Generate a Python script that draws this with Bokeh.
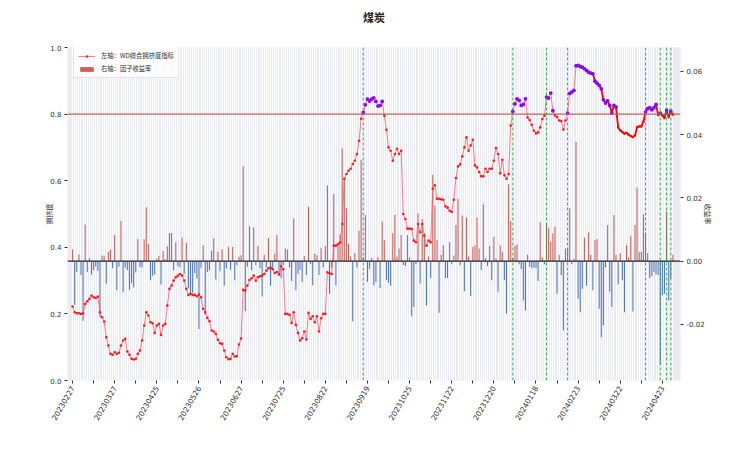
import math
from bokeh.plotting import figure
from bokeh.models import (Range1d, LinearAxis, FixedTicker, NumeralTickFormatter, Span,
                          Legend, LegendItem, Title)
from bokeh.embed import file_html
from bokeh.resources import INLINE

# ---------------- data ----------------
title_text = "煤炭"
tick_labels = ["20230227", "20230327", "20230425", "20230526", "20230627", "20230725",
               "20230822", "20230919", "20231025", "20231122", "20231220", "20240118",
               "20240223", "20240322", "20240423"]
label_step = 20      # trading days between labelled ticks
threshold = 0.8
thick_start = 247    # start of highlighted recent segment

crowding = [
    0.222, 0.205, 0.202, 0.202, 0.200, 0.202, 0.230, 0.238, 0.245, 0.255,
    0.250, 0.248, 0.252, 0.205, 0.190, 0.177, 0.130, 0.105, 0.080, 0.077,
    0.085, 0.080, 0.083, 0.105, 0.120, 0.125, 0.087, 0.077, 0.065, 0.063,
    0.065, 0.080, 0.090, 0.120, 0.165, 0.205, 0.195, 0.175, 0.172, 0.143,
    0.165, 0.170, 0.137, 0.165, 0.170, 0.225, 0.275, 0.285, 0.300, 0.310,
    0.315, 0.320, 0.315, 0.300, 0.275, 0.257, 0.260, 0.257, 0.257, 0.253,
    0.258, 0.250, 0.215, 0.205, 0.188, 0.178, 0.150, 0.147, 0.140, 0.122,
    0.112, 0.110, 0.090, 0.070, 0.064, 0.065, 0.080, 0.072, 0.073, 0.108,
    0.126, 0.272, 0.270, 0.285, 0.302, 0.307, 0.315, 0.300, 0.310, 0.313,
    0.315, 0.320, 0.330, 0.337, 0.339, 0.334, 0.323, 0.326, 0.318, 0.343,
    0.334, 0.200, 0.200, 0.197, 0.173, 0.205, 0.167, 0.143, 0.120, 0.127,
    0.147, 0.123, 0.203, 0.185, 0.193, 0.175, 0.193, 0.147, 0.187, 0.200,
    0.200, 0.325, 0.322, 0.320, 0.405, 0.405, 0.410, 0.415, 0.470, 0.606,
    0.620, 0.630, 0.636, 0.650, 0.660, 0.680, 0.720, 0.786, 0.805, 0.828,
    0.845, 0.839, 0.845, 0.849, 0.838, 0.824, 0.826, 0.838, 0.795, 0.753,
    0.700, 0.690, 0.660, 0.680, 0.696, 0.680, 0.690, 0.500, 0.485, 0.456,
    0.456, 0.455, 0.420, 0.415, 0.470, 0.445, 0.470, 0.435, 0.405, 0.420,
    0.415, 0.576, 0.586, 0.546, 0.546, 0.544, 0.543, 0.523, 0.519, 0.510,
    0.506, 0.543, 0.608, 0.643, 0.649, 0.673, 0.700, 0.730, 0.690, 0.706,
    0.723, 0.646, 0.640, 0.626, 0.613, 0.613, 0.636, 0.626, 0.636, 0.636,
    0.660, 0.698, 0.680, 0.622, 0.663, 0.616, 0.606, 0.620, 0.766, 0.808,
    0.831, 0.846, 0.841, 0.826, 0.829, 0.846, 0.790, 0.782, 0.768, 0.750,
    0.742, 0.745, 0.760, 0.785, 0.795, 0.851, 0.848, 0.863, 0.810, 0.796,
    0.791, 0.781, 0.779, 0.754, 0.781, 0.803, 0.862, 0.866, 0.871, 0.945,
    0.946, 0.943, 0.941, 0.936, 0.931, 0.926, 0.923, 0.921, 0.899, 0.893,
    0.886, 0.876, 0.843, 0.833, 0.840, 0.826, 0.803, 0.826, 0.821, 0.760,
    0.751, 0.746, 0.741, 0.744, 0.738, 0.734, 0.731, 0.736, 0.761, 0.763,
    0.763, 0.778, 0.806, 0.816, 0.819, 0.813, 0.819, 0.829, 0.797, 0.803,
    0.796, 0.788, 0.812, 0.791, 0.809, 0.798,
]

factor_ret = [
    0.0037, -0.0138, -0.0034, 0.0022, -0.0044, -0.0188, 0.0116, -0.0034, 0.0010, -0.0043,
    -0.0029, -0.0018, -0.0031, -0.0178, 0.0018, 0.0017, -0.0071, 0.0030, 0.0037, -0.0022,
    0.0083, -0.0092, -0.0018, 0.0127, -0.0098, -0.0021, -0.0029, -0.0090, -0.0070, -0.0083,
    -0.0036, 0.0070, -0.0019, -0.0020, 0.0069, 0.0170, 0.0054, -0.0060, -0.0047, -0.0042,
    0.0008, 0.0016, -0.0074, 0.0032, 0.0006, 0.0047, 0.0089, 0.0089, -0.0029, 0.0060,
    -0.0016, -0.0020, 0.0075, -0.0040, 0.0058, -0.0085, -0.0103, -0.0100, -0.0037, -0.0055,
    -0.0214, -0.0022, 0.0050, -0.0170, -0.0034, -0.0029, 0.0033, 0.0072, -0.0058, 0.0030,
    -0.0032, 0.0038, -0.0078, -0.0023, 0.0045, -0.0027, 0.0045, -0.0060, -0.0013, 0.0014,
    0.0019, 0.0300, -0.0158, -0.0018, 0.0110, -0.0029, 0.0106, -0.0013, 0.0048, -0.0022,
    -0.0112, 0.0020, -0.0020, 0.0073, -0.0078, -0.0025, 0.0024, 0.0083, -0.0044, -0.0053,
    -0.0012, 0.0040, 0.0037, -0.0020, -0.0063, 0.0135, -0.0092, -0.0040, -0.0028, -0.0066,
    0.0016, -0.0044, 0.0172, -0.0010, -0.0076, 0.0024, 0.0019, -0.0044, 0.0041, -0.0020,
    0.0048, 0.0240, -0.0103, -0.0020, 0.0212, -0.0076, 0.0053, 0.0085, 0.0356, 0.0257,
    0.0167, 0.0055, 0.0015, -0.0190, 0.0026, -0.0020, 0.0096, 0.0320, 0.0012, 0.0146,
    -0.0066, -0.0025, 0.0010, -0.0076, -0.0066, 0.0012, -0.0085, 0.0125, 0.0067, -0.0060,
    -0.0068, -0.0078, 0.0088, 0.0146, 0.0015, 0.0040, 0.0083, -0.0012, -0.0015, 0.0083,
    0.0012, -0.0174, -0.0145, -0.0010, 0.0151, -0.0070, 0.0133, 0.0088, -0.0140, 0.0015,
    -0.0053, 0.0273, 0.0176, 0.0067, -0.0163, 0.0020, 0.0050, -0.0053, -0.0053, 0.0060,
    -0.0010, 0.0018, 0.0114, 0.0197, -0.0013, 0.0144, -0.0095, 0.0138, 0.0015, -0.0110,
    0.0045, 0.0050, 0.0138, 0.0040, -0.0028, 0.0180, 0.0010, -0.0015, 0.0048, -0.0060,
    0.0077, 0.0010, -0.0097, 0.0050, 0.0030, -0.0060, -0.0166, 0.0243, 0.0127, 0.0010,
    0.0048, 0.0053, -0.0010, -0.0025, -0.0124, -0.0156, 0.0020, -0.0018, -0.0022, -0.0020,
    -0.0022, -0.0063, 0.0123, 0.0012, -0.0010, 0.0120, 0.0104, 0.0061, 0.0088, 0.0109,
    -0.0103, 0.0020, -0.0044, -0.0219, 0.0040, 0.0042, 0.0167, -0.0010, 0.0008, 0.0377,
    -0.0119, -0.0161, -0.0087, 0.0074, -0.0078, 0.0091, 0.0020, -0.0092, 0.0067, 0.0070,
    -0.0150, -0.0240, -0.0203, -0.0020, 0.0114, -0.0097, -0.0145, 0.0146, 0.0020, -0.0074,
    0.0025, -0.0060, -0.0161, 0.0051, 0.0012, 0.0080, -0.0159, 0.0114, 0.0233, 0.0030,
    0.0030, 0.0148, 0.0088, 0.0025, -0.0053, -0.0047, -0.0034, -0.0042, -0.0044, -0.0325,
    -0.0108, -0.0103, 0.0157, -0.0124, -0.0055, 0.0020,
]

left_ticks = [0.0, 0.2, 0.4, 0.6, 0.8, 1.0]
right_ticks = [-0.02, 0.0, 0.02, 0.04, 0.06]

# ---------------- derived ----------------
n = len(crowding)
idx = list(range(n))
hi_x = [i for i in idx if crowding[i] > threshold]
hi_y = [crowding[i] for i in hi_x]
signals = [i for i in idx[1:] if crowding[i] > threshold and crowding[i - 1] <= threshold]
pos_x = [i for i in idx if factor_ret[i] > 0]
pos_t = [factor_ret[i] for i in pos_x]
neg_x = [i for i in idx if factor_ret[i] <= 0]
neg_t = [factor_ret[i] for i in neg_x]

CJK = "Noto Sans CJK SC"
TICKF = "DejaVu Sans"

p = figure(width=734, height=434, output_backend="svg", toolbar_location=None,
           x_range=Range1d(-2.4, n + 2.6), y_range=Range1d(0, 1),
           min_border_left=67, min_border_right=54, min_border_top=47, min_border_bottom=54)
p.background_fill_color = "#EAEAF2"
p.border_fill_color = "white"
p.outline_line_color = None

p.title.text = title_text
p.title.align = "center"
p.title.standoff = 0
p.title.text_font = CJK
p.title.text_font_size = "11px"
p.title.text_font_style = "bold"
p.title.text_color = "#222222"

# empty spacer between frame and title (lifts the title)
p.add_layout(Title(text=" ", text_font_size="6px", standoff=15), "above")

# grid
p.xgrid.ticker = FixedTicker(ticks=idx)
p.xgrid.grid_line_color = "white"
p.xgrid.grid_line_width = 1.0
p.ygrid.grid_line_color = None

# right range
p.extra_y_ranges = {"ret": Range1d(-0.0377, 0.0675)}

# bars
vb_pos = p.vbar(x=pos_x, top=pos_t, bottom=0, width=0.5, y_range_name="ret",
                fill_color="#C0504D", fill_alpha=0.9, line_color=None)
vb_neg = p.vbar(x=neg_x, top=neg_t, bottom=0, width=0.5, y_range_name="ret",
                fill_color="#4C72B0", fill_alpha=0.95, line_color=None)

# crowding line
ln = p.line(idx, crowding, line_color="#F0606A", line_width=0.8)
sc = p.scatter(idx, crowding, size=2.6, fill_color="#FF1A1A", line_color=None)
p.line(idx[thick_start:], crowding[thick_start:], line_color="#FF0000", line_width=1.8)
p.scatter(hi_x, hi_y, size=3.8, fill_color="#8A0BEA", line_color=None)

# reference lines
p.add_layout(Span(location=threshold, dimension="width", line_color="#C0504D",
                  line_width=1.1, line_alpha=0.9))
p.add_layout(Span(location=0, dimension="width", y_range_name="ret",
                  line_color="#222222", line_width=1.1))
for s in signals:
    p.add_layout(Span(location=s, dimension="height", line_color="#2CA05A",
                      line_dash="3 2", line_width=1, line_alpha=0.9))

# axes
def style_axis(ax):
    ax.axis_line_color = None
    ax.major_tick_line_color = "#333333"
    ax.major_tick_out = 3
    ax.major_tick_in = 0
    ax.minor_tick_line_color = None
    ax.major_label_text_font = TICKF
    ax.major_label_text_font_size = "7px"
    ax.major_label_text_color = "#333333"
    ax.major_label_standoff = 3
    ax.axis_label_text_font = CJK
    ax.axis_label_text_font_size = "7px"
    ax.axis_label_text_font_style = "normal"
    ax.axis_label_text_color = "#333333"
    ax.axis_label_standoff = 3

ya = p.yaxis[0]
ya.ticker = FixedTicker(ticks=left_ticks)
ya.formatter = NumeralTickFormatter(format="0.0")
ya.axis_label = "拥挤度"
style_axis(ya)
ya.axis_label_standoff = -7

ax2 = LinearAxis(y_range_name="ret", ticker=FixedTicker(ticks=right_ticks),
                 formatter=NumeralTickFormatter(format="0.00"), axis_label="收益率")
style_axis(ax2)
ax2.axis_label_standoff = -5
p.add_layout(ax2, "right")

xa = p.xaxis[0]
xt = list(range(0, label_step * (len(tick_labels) - 1) + 1, label_step // 2))
xa.ticker = FixedTicker(ticks=xt)
overrides = {}
for t in xt:
    overrides[t] = tick_labels[t // label_step] if t % label_step == 0 else ""
xa.major_label_overrides = overrides
xa.major_label_orientation = math.pi / 3
style_axis(xa)
xa.major_label_text_font_size = "7.5px"

legend = Legend(items=[
    LegendItem(label="左轴：WD综合拥挤度指标", renderers=[ln, sc]),
    LegendItem(label="右轴：因子收益率", renderers=[vb_pos]),
], location=(6, 302))
legend.label_text_font = CJK
legend.label_text_font_size = "6.3px"
legend.label_text_color = "#333333"
legend.glyph_width = 17
legend.glyph_height = 6
legend.label_height = 7
legend.label_standoff = 6
legend.spacing = 4
legend.padding = 4
legend.margin = 0
legend.background_fill_color = "white"
legend.background_fill_alpha = 0.8
legend.border_line_color = "#CCCCCC"
legend.border_line_width = 0.8
p.add_layout(legend)

open("out.html", "w").write(file_html(p, INLINE))
